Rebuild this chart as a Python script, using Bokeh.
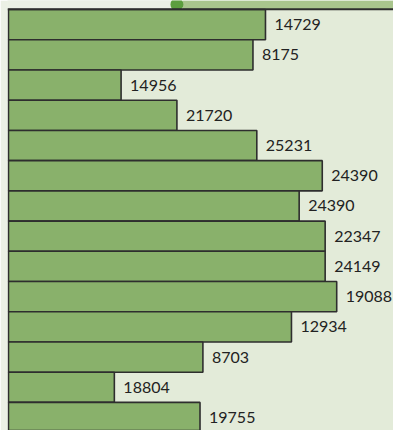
from bokeh.plotting import figure
from bokeh.models import Range1d, Span, ColumnDataSource
from bokeh.core.properties import value
from bokeh.embed import file_html
from bokeh.resources import INLINE

# Bar lengths (arbitrary units) and the printed labels
rows = list(range(14))
bar_length = [267, 254, 117, 175, 258, 326, 302, 329, 329, 341, 294, 202, 110, 199]
labels = ["14729", "8175", "14956", "21720", "25231", "24390", "24390",
          "22347", "24149", "19088", "12934", "8703", "18804", "19755"]

# slider-like header strip above the bars
slider_pos = 175
slider_max = 400

src = ColumnDataSource(dict(y=rows, length=bar_length, label=labels))

Y_TOP = -0.80
Y_BARS_TOP = -0.51
p = figure(width=393, height=430, output_backend="svg", toolbar_location=None,
           x_range=Range1d(-1, 400), y_range=Range1d(13.43, Y_TOP),
           min_border_left=7, min_border_right=0, min_border_top=0, min_border_bottom=0)
p.axis.visible = False
p.grid.visible = False
p.outline_line_color = None
p.background_fill_color = "#e3ebd9"
p.border_fill_color = "#ebf0e5"

# header strip
p.quad(left=-1, right=slider_max, top=Y_TOP, bottom=Y_BARS_TOP,
       fill_color="#ebf0e5", line_color=None)
p.quad(left=slider_pos + 6, right=slider_max, top=Y_TOP, bottom=Y_BARS_TOP,
       fill_color="#a9c58d", line_color=None)
p.scatter(x=[slider_pos], y=[Y_TOP + 0.13], size=13, marker="circle",
          fill_color="#5c9e3e", line_color=None)

p.hbar(y="y", left=0, right="length", height=1.0, source=src,
       fill_color="#89b16b", line_color="#2e2e2e", line_width=1.6)

p.add_layout(Span(location=Y_BARS_TOP, dimension="width", line_color="#2e2e2e", line_width=2))

p.text(x="length", y="y", text="label", source=src, x_offset=9,
       text_align="left", text_baseline="middle", text_font_size="16px",
       text_color="#222222",
       text_font=value("Lato"))

open("out.html", "w").write(file_html(p, INLINE))
